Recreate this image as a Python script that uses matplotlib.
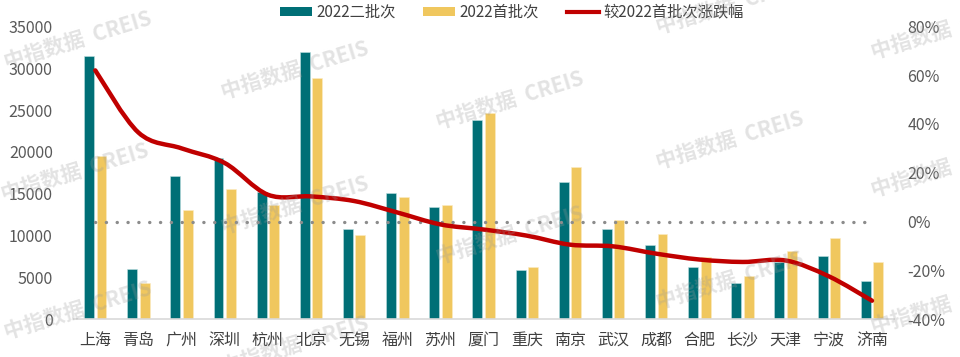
import matplotlib
matplotlib.use('Agg')
import matplotlib.pyplot as plt
import numpy as np
from matplotlib.path import Path
from matplotlib.patches import PathPatch, Patch
from matplotlib.lines import Line2D

plt.rcParams['font.family'] = ['Noto Sans CJK SC', 'DejaVu Sans']

cities = ['上海', '青岛', '广州', '深圳', '杭州', '北京', '无锡', '福州', '苏州', '厦门',
          '重庆', '南京', '武汉', '成都', '合肥', '长沙', '天津', '宁波', '济南']
batch2 = [31500, 5950, 17100, 19300, 15200, 31900, 10750, 15100, 13400, 23800,
          5900, 16450, 10750, 8850, 6200, 4250, 6800, 7500, 4600]
batch1 = [19500, 4300, 13100, 15500, 13600, 28800, 10000, 14600, 13600, 24600,
          6250, 18200, 11900, 10200, 7400, 5100, 8100, 9650, 6850]
change = [62, 36.5, 30, 24, 11, 10.3, 8.4, 3.7, -1.2, -3.3,
          -5.8, -9.5, -10.2, -13.2, -15.6, -16.6, -16, -22.5, -32.5]
left_ticks = [0, 5000, 10000, 15000, 20000, 25000, 30000, 35000]
right_ticks = [-40, -20, 0, 20, 40, 60, 80]

teal = '#006f76'
yellow = '#f0c75e'
red = '#c00000'

fig = plt.figure(figsize=(9.6, 3.57), dpi=100)
ax = fig.add_axes([73.7 / 960, 38 / 357, (893.6 - 73.7) / 960, (319 - 26.5) / 357])
ax2 = ax.twinx()

x = np.arange(len(cities))
w = 0.23
ax.bar(x - 0.145, batch2, width=w, color=teal, edgecolor='#bfe0e0', linewidth=0.4, zorder=2)
ax.bar(x + 0.145, batch1, width=w, color=yellow, edgecolor='#fbecc4', linewidth=0.4, zorder=2)

ax.set_xlim(-0.5, len(cities) - 0.5)
ax.set_ylim(0, 35000)
ax.set_yticks(left_ticks)
ax.set_xticks(x)
ax.set_xticklabels(cities, fontsize=11.5, color='#404040')
ax.tick_params(axis='x', length=0, pad=9)
ax.tick_params(axis='y', length=0, pad=15, labelsize=11.5, labelcolor='#595959')
for s in ['top', 'left', 'right']:
    ax.spines[s].set_visible(False)
ax.spines['bottom'].set_color('#d9d9d9')
ax.spines['bottom'].set_linewidth(1.2)

# right axis: change vs first batch
ax2.set_ylim(-40, 80)
ax2.set_yticks(right_ticks)
ax2.set_yticklabels([f'{t}%' for t in right_ticks])
ax2.tick_params(axis='y', length=0, pad=10, labelsize=11.5, labelcolor='#595959')
for s in ax2.spines.values():
    s.set_visible(False)

# zero reference line
ax2.plot([x[0], x[-1]], [0, 0], color='#8c8c8c', lw=2.4,
         linestyle=(0, (0.05, 3.2)), dash_capstyle='round', zorder=3)

# smoothed line (catmull-rom as bezier segments)
pts = np.column_stack([x, change]).astype(float)
verts = [pts[0]]
codes = [Path.MOVETO]
n = len(pts)
for i in range(n - 1):
    p0 = pts[max(i - 1, 0)]
    p1 = pts[i]
    p2 = pts[i + 1]
    p3 = pts[min(i + 2, n - 1)]
    c1 = p1 + (p2 - p0) / 6
    c2 = p2 - (p3 - p1) / 6
    verts += [c1, c2, p2]
    codes += [Path.CURVE4] * 3
ax2.add_patch(PathPatch(Path(verts, codes), facecolor='none', edgecolor=red,
                        lw=3.2, capstyle='round', zorder=4))

# watermarks (cut at the edges like the original)
wm = [(78, 40), (75, 172), (78, 310), (295, 70), (295, 205), (295, 345),
      (510, 100), (510, 235), (730, 5), (730, 140), (730, 280),
      (945, 30), (945, 168), (945, 305)]
for px, py in wm:
    fig.text(px / 960, 1 - py / 357, '中指数据  CREIS', fontsize=15, fontweight='bold',
             color='#9a9a9a', alpha=0.28, rotation=17, ha='center', va='center', zorder=10)

handles = [Patch(facecolor=teal), Patch(facecolor=yellow), Line2D([0], [0], color=red, lw=3)]
labels = ['2022二批次', '2022首批次', '较2022首批次涨跌幅']
fig.legend(handles, labels, loc='upper center', bbox_to_anchor=(0.533, 1.028), ncol=3,
           frameon=False, fontsize=11, handlelength=2.1, handleheight=0.5,
           columnspacing=1.8, handletextpad=0.3, labelcolor='#404040')

fig.savefig('out.png', dpi=100)
